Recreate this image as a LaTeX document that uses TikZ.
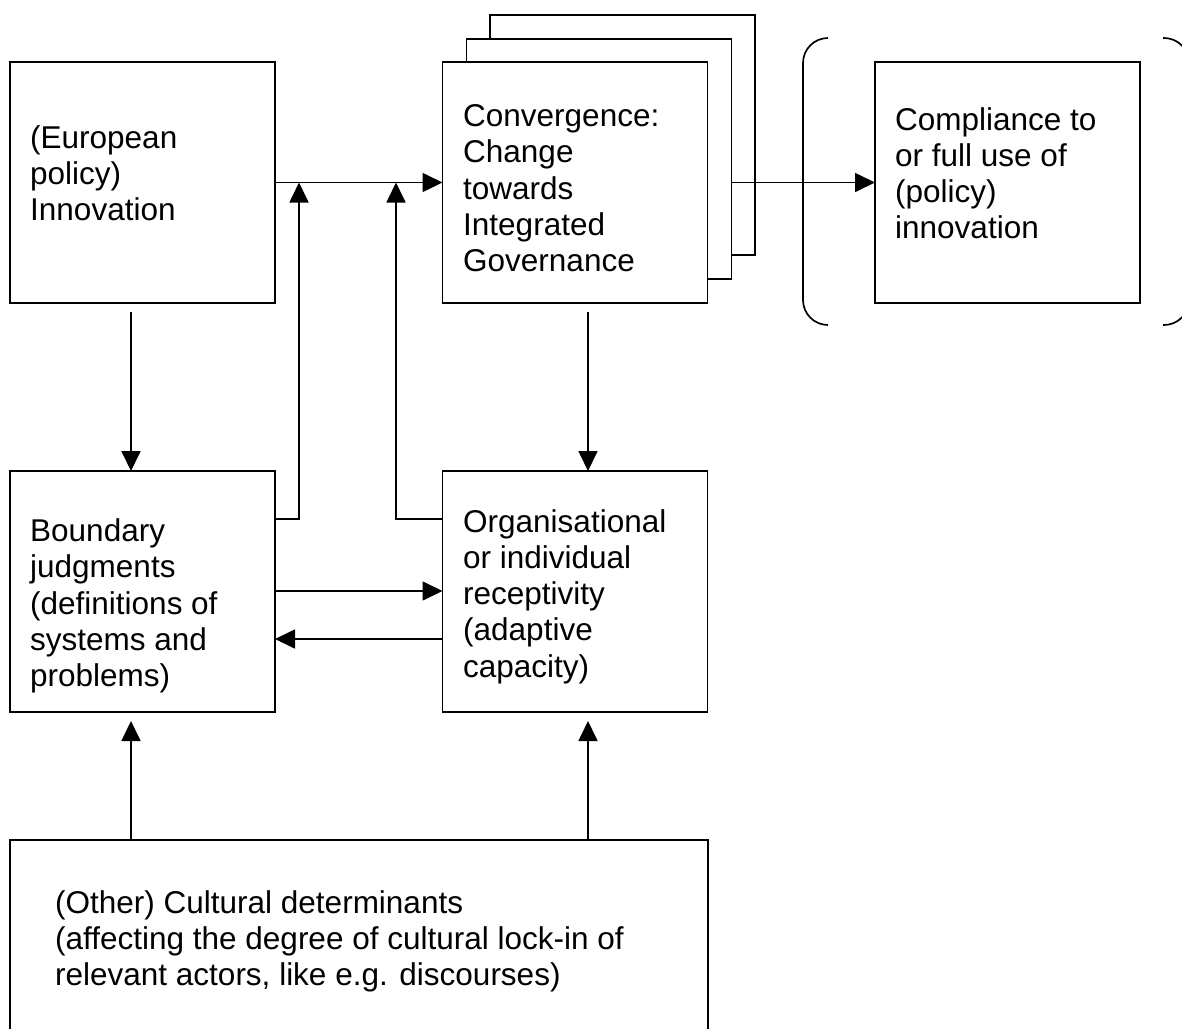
\documentclass[tikz,border=0pt]{standalone}
\usepackage{fontspec}
\setmainfont{Liberation Sans}
\usetikzlibrary{arrows.meta,calc}
\begin{document}
\begin{tikzpicture}[x=1pt,y=-1pt,
  box/.style={draw, line width=1.7pt, fill=white, minimum width=265pt,
    minimum height=241pt, inner sep=0pt, outer sep=0pt},
  % texts are placed by the baseline of their last line
  txt/.style={anchor=base west, align=left, inner sep=0pt,
    font=\fontsize{31.5pt}{36.25pt}\selectfont},
  link/.style={line width=1.7pt, -{Triangle[length=20pt,width=19pt]}},
  brace/.style={line width=1.7pt, rounded corners=25pt}]
  % canvas
  \fill[white] (0,0) rectangle (1182,1028);
  \useasboundingbox (0,0) rectangle (1182,1028);
  \clip (0,0) rectangle (1182,1028);

  % boxes
  \node[box] (inno) at (142.5,182.5) {};
  \node[box, minimum height=240pt] (back) at (622.5,135) {};
  \node[box, minimum height=240pt] (mid) at (599,159) {};
  \node[box] (conv) at (575,182.5) {};
  \node[box] (comp) at (1007.5,182.5) {};
  \node[box] (bound) at (142.5,591.5) {};
  \node[box] (org) at (575,591.5) {};
  \node[box, minimum width=698pt, minimum height=240pt] (cult) at (359,960) {};

  % brackets around the outcome
  \draw[brace] (828,38) -- (803,38) -- (803,325) -- (828,325);
  \draw[brace] (1163,38) -- (1189,38) -- (1189,325) -- (1163,325);

  % texts
  \node[txt] (innoT) at (30,220.5) {(European\\policy)\\Innovation};
  \node[txt] (convT) at (463,271.5) {Convergence:\\Change\\towards\\Integrated\\Governance};
  \node[txt] (compT) at (895,238.75) {Compliance to\\or full use of\\(policy)\\innovation};
  \node[txt] (boundT) at (30,686.5) {Boundary\\judgments\\(definitions of\\systems and\\problems)};
  \node[txt] (orgT) at (463,677) {Organisational\\or individual\\receptivity\\(adaptive\\capacity)};
  \node[txt] (cultT) at (55,985.5) {(Other) Cultural determinants\\(affecting the degree of cultural lock-in of\\relevant actors, like e.g. discourses)};

  % junctions on the main line
  \coordinate (j1) at (299,182.5);
  \coordinate (j2) at (396,182.5);

  % connectors
  \draw[link] (inno.east) -- (conv.west);
  \draw[link] ($(bound.north east)+(0,48)$) -| (j1);
  \draw[link] ($(org.north west)+(0,48)$) -| (j2);
  \draw[link] (mid.east |- conv.east) -- (comp.west);
  \draw[link] ($(inno.south)+(-11.5,9)$) -- ($(bound.north)+(-11.5,0)$);
  \draw[link] ($(conv.south)+(13,9)$) -- ($(org.north)+(13,0)$);
  \draw[link] ($(bound.north east)+(0,120)$) -- ($(org.north west)+(0,120)$);
  \draw[link] ($(org.north west)+(0,168)$) -- ($(bound.north east)+(0,168)$);
  \draw[link] ($(cult.north west)+(121,0)$) -- ($(bound.south)+(-11.5,9)$);
  \draw[link] ($(cult.north west)+(578,0)$) -- ($(org.south)+(13,9)$);
\end{tikzpicture}
\end{document}
